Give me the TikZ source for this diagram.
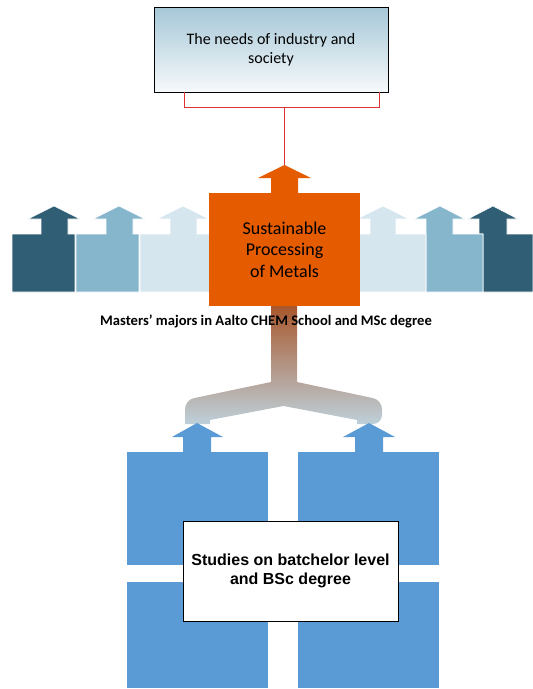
\documentclass[tikz,border=0pt]{standalone}
\usepackage{fontspec}
\setmainfont{Carlito}
\newfontfamily\arialfont{Liberation Sans}
\usetikzlibrary{positioning}

\definecolor{darkteal}{RGB}{47,94,117}
\definecolor{midteal}{RGB}{134,182,204}
\definecolor{paleteal}{RGB}{214,230,239}
\definecolor{metalorange}{RGB}{229,91,0}
\definecolor{studyblue}{RGB}{91,155,213}
\definecolor{bracketred}{RGB}{222,50,50}
\definecolor{needstop}{RGB}{166,199,215}
\definecolor{trunkbrown}{RGB}{168,88,45}
\definecolor{trunkgrey}{RGB}{180,170,162}
\definecolor{trunkblue}{RGB}{190,208,218}

\tikzset{
  needsbox/.style={draw=black, rectangle, top color=needstop, bottom color=needstop!10!white, align=center, font=\fontsize{16}{19}\selectfont, inner sep=0pt},
  metalbox/.style={rectangle, fill=metalorange, align=center, font=\fontsize{18}{21.5}\selectfont, inner sep=0pt},
  studybox/.style={rectangle, fill=studyblue, inner sep=0pt},
  bscbox/.style={draw=black, rectangle, fill=white, align=center, font=\arialfont\bfseries\fontsize{16}{19}\selectfont, inner sep=0pt},
  redline/.style={draw=bracketred, line width=1pt},
  sidearrow/.style={draw=white, line width=0.6pt}
}

\begin{document}
\begin{tikzpicture}[x=1pt, y=-1pt]
  \useasboundingbox (0,0) rectangle (533,689);

  % majors on the left
  \filldraw[sidearrow, fill=darkteal] (12,292) -- (12,234) -- (41,234) -- (41,219) -- (28,219) -- (54,206) -- (80,219) -- (68,219) -- (68,234) -- (75,234) -- (75,292) -- cycle;
  \filldraw[sidearrow, fill=midteal] (76,292) -- (76,234) -- (106,234) -- (106,219) -- (93,219) -- (119,206) -- (145,219) -- (133,219) -- (133,234) -- (139,234) -- (139,292) -- cycle;
  \filldraw[sidearrow, fill=paleteal] (140,292) -- (140,234) -- (170,234) -- (170,219) -- (157,219) -- (183,206) -- (209,219) -- (197,219) -- (197,234) -- (215,234) -- (215,292) -- cycle;
  % majors on the right
  \filldraw[sidearrow, fill=darkteal] (533,292) -- (533,234) -- (507,234) -- (507,219) -- (518,219) -- (493,206) -- (468,219) -- (479,219) -- (479,234) -- (483,234) -- (483,292) -- cycle;
  \filldraw[sidearrow, fill=midteal] (483,292) -- (483,234) -- (453,234) -- (453,219) -- (465,219) -- (440,206) -- (414,219) -- (426,219) -- (426,292) -- cycle;
  \filldraw[sidearrow, fill=paleteal] (426,292) -- (426,234) -- (396,234) -- (396,219) -- (409,219) -- (383,206) -- (357,219) -- (370,219) -- (370,234) -- (355,234) -- (355,292) -- cycle;

  % the own major
  \fill[metalorange] (271,194) -- (271,178) -- (258,178) -- (284.5,165) -- (311,178) -- (298,178) -- (298,194) -- cycle;
  \node[metalbox, minimum width=151pt, minimum height=113pt] (metals) at (284.5,249.5) {Sustainable\\Processing\\of Metals};
  \coordinate (tip) at (284.5,165);

  \node[needsbox, minimum width=234pt, minimum height=85pt] (needs) at (271,49.5) {The needs of industry and\\society};
  \coordinate (bl) at (184,92);
  \coordinate (br) at (379,92);
  \draw[redline] (bl) -- ++(0,15) -| (br);
  \draw[redline] (tip) -- (tip |- 0,107);

  % branch from bachelor studies up to the major
  \shade[top color=trunkbrown, middle color=trunkgrey, bottom color=trunkblue]
    (271,306) -- (297,306) -- (297,382) [rounded corners=9pt] -- (382,400) -- (382,424) [sharp corners] -- (357,424)
    -- (357,420) -- (283.5,406) -- (210,420) -- (210,424) -- (185,424) [rounded corners=9pt] -- (185,400) [sharp corners] -- (271,382) -- cycle;

  \node[font=\bfseries\fontsize{14.6}{17}\selectfont] (masters) at (266,321) {Masters’ majors in Aalto CHEM School and MSc degree};

  % bachelor studies
  \node[studybox, minimum width=141pt, minimum height=113pt] (bsc1) at (197.5,508.5) {};
  \node[studybox, minimum width=141pt, minimum height=113pt] (bsc2) at (368.5,508.5) {};
  \node[studybox, minimum width=141pt, minimum height=106pt] (bsc3) at (197.5,635) {};
  \node[studybox, minimum width=141pt, minimum height=106pt] (bsc4) at (368.5,635) {};
  \fill[studyblue] (183,453) -- (183,437) -- (172,437) -- (197,423) -- (223,437) -- (211,437) -- (211,453) -- cycle;
  \fill[studyblue] (355,453) -- (355,437) -- (343,437) -- (369,423) -- (395,437) -- (383,437) -- (383,453) -- cycle;

  \node[bscbox, minimum width=215pt, minimum height=100pt] (bsc) at (290.5,571) {Studies on batchelor level\\and BSc degree};
\end{tikzpicture}
\end{document}
